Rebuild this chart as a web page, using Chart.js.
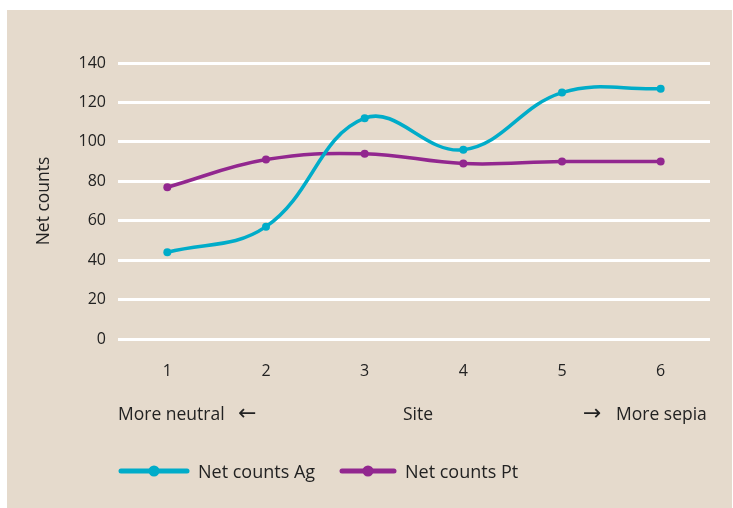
<!DOCTYPE html>
<html>
<head>
<meta charset="utf-8">
<script src="https://cdn.jsdelivr.net/npm/chart.js@4"></script>
<style>
    html, body { margin: 0; padding: 0; background: #fff; }
    body { width: 733px; height: 508px; position: relative; overflow: hidden; font-family: 'Open Sans', sans-serif; color: #222; }
    #panel { position: absolute; left: 7px; top: 10px; width: 725px; height: 498px; background: #e5dacc; }
    #chart-wrap { position: absolute; left: 0; top: 0; width: 725px; height: 498px; }
    .cap { position: absolute; font-size: 17.5px; line-height: 22px; white-space: nowrap; }
    .arrow { font-family: 'DejaVu Sans', sans-serif; font-size: 22px; line-height: 22px; }
    .legend-item { position: absolute; display: flex; align-items: center; font-size: 18px; white-space: nowrap; }
    .legend-item svg { margin-right: 8px; }
</style>
</head>
<body>
<div id="panel">
    <div id="chart-wrap"><canvas id="chart"></canvas></div>
    <div class="cap" style="left:111px; top:392px;">More neutral</div>
    <div class="cap arrow" style="left:231px; top:392px;">&#8592;</div>
    <div class="cap" style="left:396px; top:392px;">Site</div>
    <div class="cap arrow" style="left:576px; top:392px;">&#8594;</div>
    <div class="cap" style="left:609px; top:392px;">More sepia</div>
    <div id="legend"></div>
</div>
<script>
// ==================== Data ====================
const SITES = ['1', '2', '3', '4', '5', '6'];
const AG_COUNTS = [44, 57, 112, 96, 125, 127];
const PT_COUNTS = [77, 91, 94, 89, 90, 90];
const Y_TICKS = [0, 20, 40, 60, 80, 100, 120, 140];

const AG_COLOR = '#00acc9';
const PT_COLOR = '#92278f';
const TEXT_COLOR = '#222';

const ctx = document.getElementById('chart').getContext('2d');
const chart = new Chart(ctx, {
    type: 'line',
    data: {
        labels: SITES,
        datasets: [
            { label: 'Net counts Ag', data: AG_COUNTS, borderColor: AG_COLOR, backgroundColor: AG_COLOR },
            { label: 'Net counts Pt', data: PT_COUNTS, borderColor: PT_COLOR, backgroundColor: PT_COLOR }
        ]
    },
    options: {
        responsive: true, maintainAspectRatio: false, animation: false,
        elements: {
            line: { borderWidth: 3.5, tension: 0.4 },
            point: { radius: 4, borderWidth: 0, hoverRadius: 4 }
        },
        layout: { padding: { left: 27, right: 22, top: 53, bottom: 129 } },
        plugins: { legend: { display: false }, tooltip: { enabled: false } },
        scales: {
            x: {
                offset: true,
                grid: { display: false },
                border: { display: false },
                ticks: { color: TEXT_COLOR, padding: 15, font: { family: 'Open Sans', size: 16 } },
                afterFit: s => { s.height = 40; }
            },
            y: {
                min: 0, max: 140,
                afterBuildTicks: s => { s.ticks = Y_TICKS.map(v => ({ value: v })); },
                grid: { color: '#ffffff', lineWidth: 3, drawTicks: false },
                border: { display: false },
                ticks: { color: TEXT_COLOR, padding: 12, font: { family: 'Open Sans', size: 16 } },
                title: { display: true, text: 'Net counts', color: TEXT_COLOR, padding: 0, font: { family: 'Open Sans', size: 17.5 } },
                afterFit: s => { s.width = 84; }
            }
        }
    }
});

// HTML legend built from the datasets
const legendPos = [111, 332];
document.getElementById('legend').innerHTML = chart.data.datasets.map((ds, i) =>
    `<div class="legend-item" style="left:${legendPos[i]}px; top:449px;">` +
    `<svg width="${i === 0 ? 72 : 58}" height="12"><line x1="3" y1="6" x2="${i === 0 ? 69 : 55}" y2="6" stroke="${ds.borderColor}" stroke-width="5" stroke-linecap="round"/>` +
    `<circle cx="${i === 0 ? 36 : 29}" cy="6" r="5.5" fill="${ds.borderColor}"/></svg>` +
    `<span>${ds.label}</span></div>`
).join('');
</script>
</body>
</html>
